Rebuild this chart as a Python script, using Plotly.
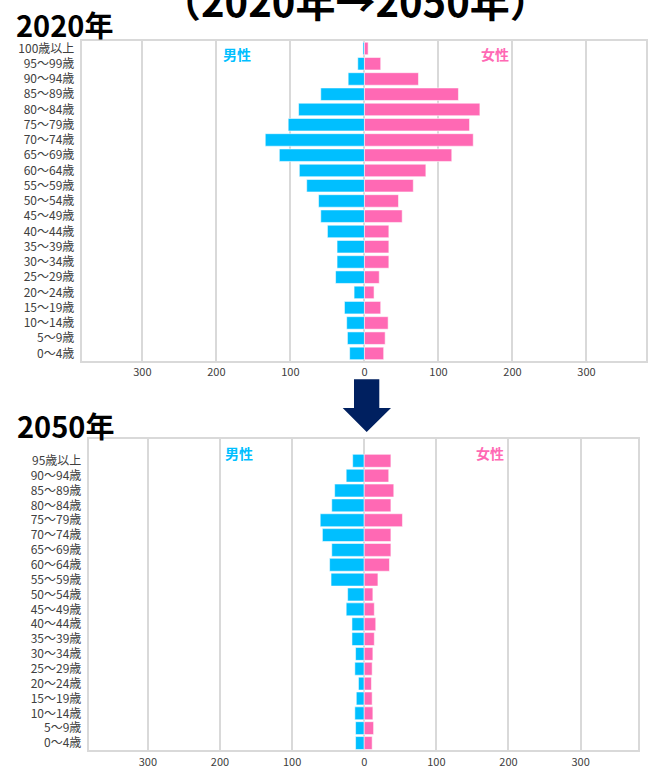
import plotly.graph_objects as go

# ---------------- data ----------------
ages_2020 = ["0～4歳", "5～9歳", "10～14歳", "15～19歳", "20～24歳", "25～29歳", "30～34歳",
             "35～39歳", "40～44歳", "45～49歳", "50～54歳", "55～59歳", "60～64歳", "65～69歳",
             "70～74歳", "75～79歳", "80～84歳", "85～89歳", "90～94歳", "95～99歳", "100歳以上"]
male_2020 = [20, 23, 24, 27, 14, 39, 37, 37, 50, 59, 62, 78, 88, 115, 134, 103, 89, 59, 22, 9, 2]
female_2020 = [26, 28, 32, 22, 13, 20, 33, 33, 33, 51, 46, 66, 83, 118, 147, 142, 156, 127, 73, 22, 5]

ages_2050 = ["0～4歳", "5～9歳", "10～14歳", "15～19歳", "20～24歳", "25～29歳", "30～34歳",
             "35～39歳", "40～44歳", "45～49歳", "50～54歳", "55～59歳", "60～64歳", "65～69歳",
             "70～74歳", "75～79歳", "80～84歳", "85～89歳", "90～94歳", "95歳以上"]
male_2050 = [12, 12, 13, 11, 8, 13, 12, 17, 17, 25, 23, 46, 48, 45, 58, 61, 45, 41, 25, 16]
female_2050 = [11, 13, 12, 11, 10, 11, 12, 14, 16, 14, 12, 19, 35, 37, 37, 53, 37, 41, 34, 37]

tick_vals = [-300, -200, -100, 0, 100, 200, 300]
tick_text = ["300", "200", "100", "0", "100", "200", "300"]

title_text = "（2020年→2050年）"
year_labels = ["2020年", "2050年"]
male_label = "男性"
female_label = "女性"

# ---------------- style ----------------
W, H = 654, 769
MALE = "#00BFFF"
FEMALE = "#FF69B4"
GRID = "#D9D9D9"
TXT = "#404040"
FONT = "Noto Sans CJK JP"

def px_x(p):
    return p / W

def px_y(p):
    return 1 - p / H

fig = go.Figure()

# top pyramid
fig.add_trace(go.Bar(y=ages_2020, x=[-v for v in male_2020], orientation="h",
                     marker=dict(color=MALE, line=dict(color="rgba(255,255,255,0.55)", width=1)),
                     width=0.82, xaxis="x", yaxis="y", showlegend=False))
fig.add_trace(go.Bar(y=ages_2020, x=female_2020, orientation="h",
                     marker=dict(color=FEMALE, line=dict(color="rgba(255,255,255,0.55)", width=1)),
                     width=0.82, xaxis="x", yaxis="y", showlegend=False))
# bottom pyramid
fig.add_trace(go.Bar(y=ages_2050, x=[-v for v in male_2050], orientation="h",
                     marker=dict(color=MALE, line=dict(color="rgba(255,255,255,0.55)", width=1)),
                     width=0.87, xaxis="x2", yaxis="y2", showlegend=False))
fig.add_trace(go.Bar(y=ages_2050, x=female_2050, orientation="h",
                     marker=dict(color=FEMALE, line=dict(color="rgba(255,255,255,0.55)", width=1)),
                     width=0.87, xaxis="x2", yaxis="y2", showlegend=False))

xcommon = dict(tickvals=tick_vals, ticktext=tick_text, showgrid=True, gridcolor=GRID, gridwidth=1.5,
               zeroline=True, zerolinecolor=GRID, zerolinewidth=1.5,
               showline=True, linecolor=GRID, linewidth=2, mirror=True,
               ticks="", tickfont=dict(family=FONT, size=11, color=TXT), fixedrange=True)
ycommon = dict(type="category", showgrid=False, zeroline=False,
               showline=True, linecolor=GRID, linewidth=2, mirror=True,
               ticks="", tickfont=dict(family=FONT, size=12, color=TXT), ticklabelstandoff=3)

fig.update_layout(
    width=W, height=H,
    margin=dict(l=0, r=0, t=0, b=0),
    paper_bgcolor="white", plot_bgcolor="white",
    barmode="relative",
    xaxis=dict(domain=[px_x(81.7), px_x(645.7)], range=[-382, 380], anchor="y", **xcommon),
    yaxis=dict(domain=[px_y(363.3), px_y(39.3)], range=[-0.5, 20.5], anchor="x",
               categoryorder="array", categoryarray=ages_2020, **ycommon),
    xaxis2=dict(domain=[px_x(88.7), px_x(638.3)], range=[-382, 380], anchor="y2", **xcommon),
    yaxis2=dict(domain=[px_y(757.3), px_y(441.7)], range=[-0.5, 20.5], anchor="x2",
                categoryorder="array", categoryarray=ages_2050, **ycommon),
)

annots = [
    dict(text=title_text, x=px_x(355), y=px_y(-2), xanchor="center", yanchor="middle",
         font=dict(family=FONT, size=40, color="#000000", weight="bold")),
    dict(text=year_labels[0], x=px_x(14), y=px_y(22), xanchor="left", yanchor="middle",
         font=dict(family=FONT, size=29, color="#000000", weight="bold")),
    dict(text=year_labels[1], x=px_x(15), y=px_y(428), xanchor="left", yanchor="middle",
         font=dict(family=FONT, size=29, color="#000000", weight="bold")),
    dict(text=male_label, x=px_x(236.5), y=px_y(53), xanchor="center", yanchor="middle",
         font=dict(family=FONT, size=14, color=MALE, weight="bold")),
    dict(text=female_label, x=px_x(494.5), y=px_y(53), xanchor="center", yanchor="middle",
         font=dict(family=FONT, size=14, color=FEMALE, weight="bold")),
    dict(text=male_label, x=px_x(239), y=px_y(456), xanchor="center", yanchor="middle",
         font=dict(family=FONT, size=14, color=MALE, weight="bold")),
    dict(text=female_label, x=px_x(490), y=px_y(456), xanchor="center", yanchor="middle",
         font=dict(family=FONT, size=14, color=FEMALE, weight="bold")),
]
for a in annots:
    a.update(xref="paper", yref="paper", showarrow=False)
fig.update_layout(annotations=annots)

# down arrow between the two charts
ax = [354, 379.3, 379.3, 391, 366.7, 342.7, 354, 354]
ay = [381.7, 381.7, 410.7, 410.7, 435, 410.7, 410.7, 381.7]
path = "M " + " L ".join(f"{px_x(x):.5f},{px_y(y):.5f}" for x, y in zip(ax, ay)) + " Z"
fig.add_shape(type="path", path=path, xref="paper", yref="paper",
              fillcolor="#002060", line=dict(color="#002060", width=0))

fig.write_html("out.html", config={"displayModeBar": False},
               post_script="document.body.style.margin='0';document.body.style.overflow='hidden';")
